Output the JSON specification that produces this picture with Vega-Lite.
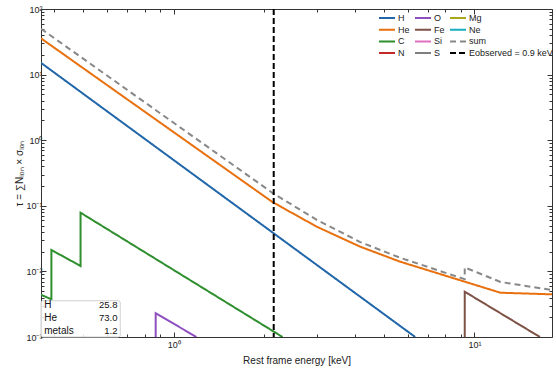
{
  "$schema": "https://vega.github.io/schema/vega-lite/v6.json",
  "width": 511,
  "height": 328,
  "autosize": {"type": "none"},
  "padding": {"left": 41, "top": 9, "right": 4, "bottom": 34},
  "background": "white",
  "config": {
    "font": "Liberation Sans",
    "view": {"stroke": null},
    "axis": {
      "grid": false,
      "domainColor": "#333",
      "tickColor": "#333",
      "labelColor": "#222",
      "titleColor": "#222",
      "labelFont": "Liberation Sans",
      "titleFont": "Liberation Sans",
      "labelFontSize": 9,
      "titleFontSize": 10,
      "titleFontWeight": "normal"
    }
  },
  "datasets": {
    "lines": [
      {"series": "H", "E": 0.362, "tau": 15.1, "i": 0},
      {"series": "H", "E": 6.35, "tau": 0.001, "i": 1},
      {"series": "He", "E": 0.362, "tau": 35.7, "i": 0},
      {"series": "He", "E": 2.13, "tau": 0.114, "i": 1},
      {"series": "He", "E": 2.99, "tau": 0.048, "i": 2},
      {"series": "He", "E": 4.17, "tau": 0.0238, "i": 3},
      {"series": "He", "E": 5.65, "tau": 0.0141, "i": 4},
      {"series": "He", "E": 12.2, "tau": 0.00473, "i": 5},
      {"series": "He", "E": 18.1, "tau": 0.00447, "i": 6},
      {"series": "C", "E": 0.362, "tau": 0.0044, "i": 0},
      {"series": "C", "E": 0.392, "tau": 0.00376, "i": 1},
      {"series": "C", "E": 0.392, "tau": 0.0212, "i": 2},
      {"series": "C", "E": 0.49, "tau": 0.0121, "i": 3},
      {"series": "C", "E": 0.49, "tau": 0.0785, "i": 4},
      {"series": "C", "E": 2.3, "tau": 0.001, "i": 5},
      {"series": "O", "E": 0.871, "tau": 0.001, "i": 0},
      {"series": "O", "E": 0.871, "tau": 0.0023, "i": 1},
      {"series": "O", "E": 1.19, "tau": 0.001, "i": 2},
      {"series": "Fe", "E": 9.28, "tau": 0.001, "i": 0},
      {"series": "Fe", "E": 9.28, "tau": 0.0049, "i": 1},
      {"series": "Fe", "E": 16.5, "tau": 0.001, "i": 2},
      {"series": "sum", "E": 0.362, "tau": 50, "i": 0},
      {"series": "sum", "E": 2.14, "tau": 0.155, "i": 1},
      {"series": "sum", "E": 2.99, "tau": 0.061, "i": 2},
      {"series": "sum", "E": 4.17, "tau": 0.028, "i": 3},
      {"series": "sum", "E": 5.65, "tau": 0.0162, "i": 4},
      {"series": "sum", "E": 9.28, "tau": 0.0076, "i": 5},
      {"series": "sum", "E": 9.28, "tau": 0.0115, "i": 6},
      {"series": "sum", "E": 12.2, "tau": 0.0069, "i": 7},
      {"series": "sum", "E": 18.1, "tau": 0.0052, "i": 8}
    ],
    "obs": [
      {"series": "Eobserved = 0.9 keV", "E": 2.15}
    ],
    "table": [
      {"name": "H", "share": "25.8", "tau": 0.00308},
      {"name": "He", "share": "73.0", "tau": 0.00195},
      {"name": "metals", "share": "1.2", "tau": 0.00123}
    ],
    "box": [
      {"E": 0.362, "E2": 0.664, "tau": 0.001, "tau2": 0.00357}
    ]
  },
  "layer": [
    {
      "data": {"name": "lines"},
      "mark": {"type": "line", "strokeWidth": 2, "clip": true},
      "encoding": {
        "x": {
          "field": "E", "type": "quantitative",
          "scale": {"type": "log", "domain": [0.362, 18.1], "nice": false, "zero": false},
          "axis": {
            "orient": "bottom",
            "title": "Rest frame energy [keV]",
            "values": [0.4, 0.5, 0.6, 0.7, 0.8, 0.9, 1, 2, 3, 4, 5, 6, 7, 8, 9, 10],
            "labelExpr": "datum.value == 1 ? '10⁰' : datum.value == 10 ? '10¹' : ''",
            "tickSize": {"condition": {"test": "datum.value == 1 || datum.value == 10", "value": -5}, "value": -3},
            "labelPadding": 8,
            "titlePadding": 6
          }
        },
        "y": {
          "field": "tau", "type": "quantitative",
          "scale": {"type": "log", "domain": [0.001, 100], "nice": false, "zero": false},
          "axis": {
            "orient": "left",
            "title": "τ = ∑Nᵢₒₙ × σᵢₒₙ",
            "values": [0.001, 0.002, 0.003, 0.004, 0.005, 0.006, 0.007, 0.008, 0.009, 0.01, 0.02, 0.03, 0.04, 0.05, 0.06, 0.07, 0.08, 0.09, 0.1, 0.2, 0.3, 0.4, 0.5, 0.6, 0.7, 0.8, 0.9, 1, 2, 3, 4, 5, 6, 7, 8, 9, 10, 20, 30, 40, 50, 60, 70, 80, 90, 100],
            "labelExpr": "datum.value == 100 ? '10²' : datum.value == 10 ? '10¹' : datum.value == 1 ? '10⁰' : datum.value == 0.1 ? '10⁻¹' : datum.value == 0.01 ? '10⁻²' : datum.value == 0.001 ? '10⁻³' : ''",
            "tickSize": {"condition": {"test": "datum.value == 100 || datum.value == 10 || datum.value == 1 || datum.value == 0.1 || datum.value == 0.01 || datum.value == 0.001", "value": -5}, "value": -3},
            "labelPadding": 4,
            "titlePadding": 1
          }
        },
        "color": {
          "field": "series", "type": "nominal",
          "scale": {
            "domain": ["H", "He", "C", "N", "O", "Fe", "Si", "S", "Mg", "Ne", "sum", "Eobserved = 0.9 keV"],
            "range": ["#2066a8", "#e8700e", "#2f8f2f", "#c62828", "#8e4fc1", "#7e5246", "#e06fc0", "#7f7f7f", "#a8a81c", "#17aebf", "#888888", "#000000"]
          },
          "legend": {
            "title": null,
            "orient": "none",
            "legendX": 341,
            "legendY": 4,
            "columns": 3,
            "symbolType": "M-2,0L2,0",
            "symbolSize": 64,
            "symbolStrokeWidth": 2,
            "labelFontSize": 9,
            "labelOffset": 6,
            "columnPadding": 1,
            "rowPadding": 1.7,
            "padding": 0,
            "labelColor": "#222",
            "labelLimit": 200
          }
        },
        "strokeDash": {
          "field": "series", "type": "nominal",
          "scale": {
            "domain": ["H", "He", "C", "N", "O", "Fe", "Si", "S", "Mg", "Ne", "sum", "Eobserved = 0.9 keV"],
            "range": [[1, 0], [1, 0], [1, 0], [1, 0], [1, 0], [1, 0], [1, 0], [1, 0], [1, 0], [1, 0], [6, 4], [6, 3]]
          },
          "legend": {
            "title": null,
            "orient": "none",
            "legendX": 341,
            "legendY": 4,
            "columns": 3,
            "symbolType": "M-2,0L2,0",
            "symbolSize": 64,
            "symbolStrokeWidth": 2,
            "labelFontSize": 9,
            "labelOffset": 6,
            "columnPadding": 1,
            "rowPadding": 1.7,
            "padding": 0,
            "labelColor": "#222",
            "labelLimit": 200
          }
        },
        "order": {"field": "i", "type": "quantitative"}
      }
    },
    {
      "data": {"name": "obs"},
      "mark": {"type": "rule", "strokeWidth": 2},
      "encoding": {
        "x": {"field": "E", "type": "quantitative", "axis": null},
        "color": {"field": "series", "type": "nominal"},
        "strokeDash": {"field": "series", "type": "nominal"}
      }
    },
    {
      "data": {"name": "box"},
      "mark": {"type": "rect", "fill": "white", "fillOpacity": 0.85, "stroke": "#d0d0d0", "strokeWidth": 1, "cornerRadius": 2},
      "encoding": {
        "x": {"field": "E", "type": "quantitative", "axis": null},
        "x2": {"field": "E2"},
        "y": {"field": "tau", "type": "quantitative", "axis": null},
        "y2": {"field": "tau2"}
      }
    },
    {
      "data": {"name": "table"},
      "mark": {"type": "text", "align": "left", "baseline": "middle", "fontSize": 10, "color": "#111"},
      "encoding": {
        "x": {"datum": 0.371, "type": "quantitative", "axis": null},
        "y": {"field": "tau", "type": "quantitative", "axis": null},
        "text": {"field": "name"}
      }
    },
    {
      "data": {"name": "table"},
      "mark": {"type": "text", "align": "right", "baseline": "middle", "fontSize": 9.5, "color": "#111"},
      "encoding": {
        "x": {"datum": 0.65, "type": "quantitative", "axis": null},
        "y": {"field": "tau", "type": "quantitative", "axis": null},
        "text": {"field": "share"}
      }
    },
    {
      "data": {"name": "lines"},
      "mark": {"type": "line", "strokeOpacity": 0, "clip": true},
      "encoding": {
        "x": {
          "field": "E", "type": "quantitative",
          "axis": {
            "orient": "top", "title": null, "labels": false,
            "values": [0.4, 0.5, 0.6, 0.7, 0.8, 0.9, 1, 2, 3, 4, 5, 6, 7, 8, 9, 10],
            "tickSize": {"condition": {"test": "datum.value == 1 || datum.value == 10", "value": -5}, "value": -3}
          }
        },
        "y": {
          "field": "tau", "type": "quantitative",
          "axis": {
            "orient": "right", "title": null, "labels": false,
            "values": [0.001, 0.002, 0.003, 0.004, 0.005, 0.006, 0.007, 0.008, 0.009, 0.01, 0.02, 0.03, 0.04, 0.05, 0.06, 0.07, 0.08, 0.09, 0.1, 0.2, 0.3, 0.4, 0.5, 0.6, 0.7, 0.8, 0.9, 1, 2, 3, 4, 5, 6, 7, 8, 9, 10, 20, 30, 40, 50, 60, 70, 80, 90, 100],
            "tickSize": {"condition": {"test": "datum.value == 100 || datum.value == 10 || datum.value == 1 || datum.value == 0.1 || datum.value == 0.01 || datum.value == 0.001", "value": -5}, "value": -3}
          }
        },
        "detail": {"field": "series"}
      }
    }
  ],
  "resolve": {"axis": {"x": "independent", "y": "independent"}}
}
